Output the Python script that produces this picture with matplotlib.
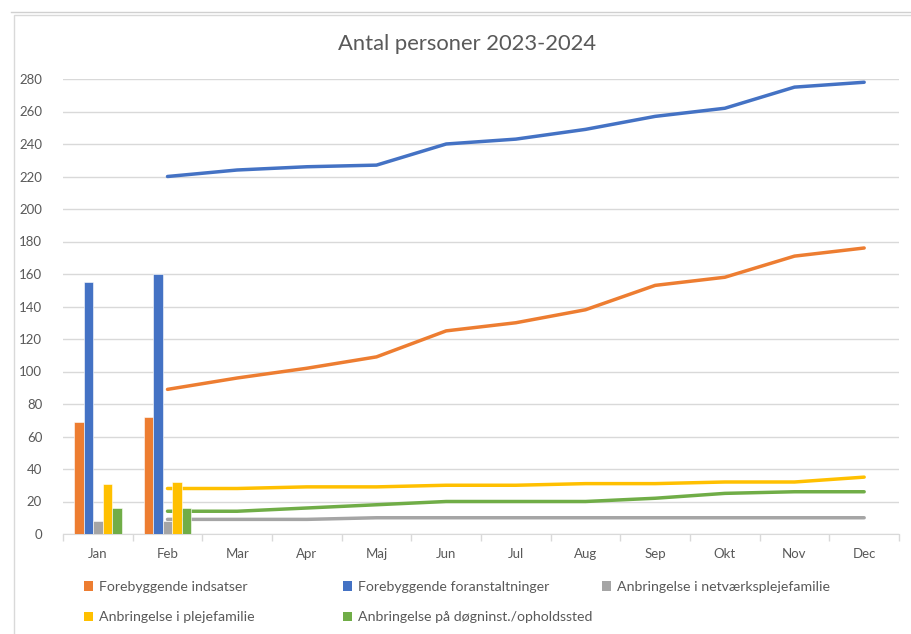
import numpy as np
import matplotlib.pyplot as plt
from matplotlib.patches import Patch, Rectangle
from matplotlib.lines import Line2D

plt.rcParams['font.family'] = ['Lato', 'DejaVu Sans']

months = ["Jan", "Feb", "Mar", "Apr", "Maj", "Jun", "Jul", "Aug", "Sep", "Okt", "Nov", "Dec"]
series = ["Forebyggende indsatser", "Forebyggende foranstaltninger",
          "Anbringelse i netværksplejefamilie", "Anbringelse i plejefamilie",
          "Anbringelse på døgninst./opholdssted"]
colors = ["#ED7D31", "#4472C4", "#A5A5A5", "#FFC000", "#70AD47"]

# columns only for Jan and Feb
bar_indsatser = [69, 72]
bar_foranst = [155, 160]
bar_netvaerk = [8, 8]
bar_pleje = [31, 32]
bar_dogn = [16, 16]

# lines from Feb to Dec
line_indsatser = [89, 96, 102, 109, 125, 130, 138, 153, 158, 171, 176]
line_foranst = [220, 224, 226, 227, 240, 243, 249, 257, 262, 275, 278]
line_netvaerk = [9, 9, 9, 10, 10, 10, 10, 10, 10, 10, 10]
line_pleje = [28, 28, 29, 29, 30, 30, 31, 31, 32, 32, 35]
line_dogn = [14, 14, 16, 18, 20, 20, 20, 22, 25, 26, 26]

bars = [bar_indsatser, bar_foranst, bar_netvaerk, bar_pleje, bar_dogn]
lines = [line_indsatser, line_foranst, line_netvaerk, line_pleje, line_dogn]

W, H = 912, 634
fig = plt.figure(figsize=(W/100, H/100), dpi=100)

# spreadsheet / chart frame
fig.add_artist(Line2D([11/W, 1], [1-12/H, 1-12/H], color='#D0D0D0', lw=1))
fig.add_artist(Rectangle((14/W, -0.01), 1, 1-15/H+0.01, transform=fig.transFigure,
                         fill=False, edgecolor='#D9D9D9', lw=1))

ax = fig.add_axes([63/W, 1-534/H, (899-63)/W, (534-79)/H])

x = np.arange(len(months))
w = 0.137
for i in range(5):
    ax.bar(x[:2] + (i-2)*w, bars[i], width=w, color=colors[i],
           edgecolor='white', linewidth=0.4, zorder=3)
for i in range(5):
    ax.plot(x[1:], lines[i], color=colors[i], lw=2.5, solid_capstyle='round', zorder=2)

ax.set_xlim(-0.5, 11.5)
ax.set_ylim(0, 280)
ax.set_yticks(range(0, 281, 20))
ax.set_xticks(x)
ax.set_xticklabels(months)
ax.set_xticks(np.arange(-0.5, 12, 1), minor=True)
ax.grid(axis='y', color='#D9D9D9', lw=1)
ax.set_axisbelow(True)
for s in ['left', 'right', 'top']:
    ax.spines[s].set_visible(False)
ax.spines['bottom'].set_color('#D9D9D9')
ax.tick_params(axis='y', length=0, labelsize=9.5, labelcolor='#595959', pad=15)
ax.tick_params(axis='x', which='major', length=0, labelsize=9.5, labelcolor='#595959', pad=10)
ax.tick_params(axis='x', which='minor', length=5, color='#D9D9D9', width=1)

fig.text(467/W, 1-44/H, "Antal personer 2023-2024", ha='center', va='center',
         fontsize=15.8, color='#595959')

handles = [Patch(facecolor=c, edgecolor='none') for c in colors]
cols = [[0, 3], [1, 4], [2]]
col_x = [84, 343, 602]
for cx, idx in zip(col_x, cols):
    leg = fig.legend([handles[k] for k in idx], [series[k] for k in idx],
                     loc='upper left', bbox_to_anchor=(cx/W, 1-581/H),
                     frameon=False, fontsize=10.2, handlelength=0.65, handleheight=0.65,
                     handletextpad=0.4, labelspacing=1.3, borderpad=0, borderaxespad=0)
    for t in leg.get_texts():
        t.set_color('#595959')

fig.savefig("out.png", dpi=100)
